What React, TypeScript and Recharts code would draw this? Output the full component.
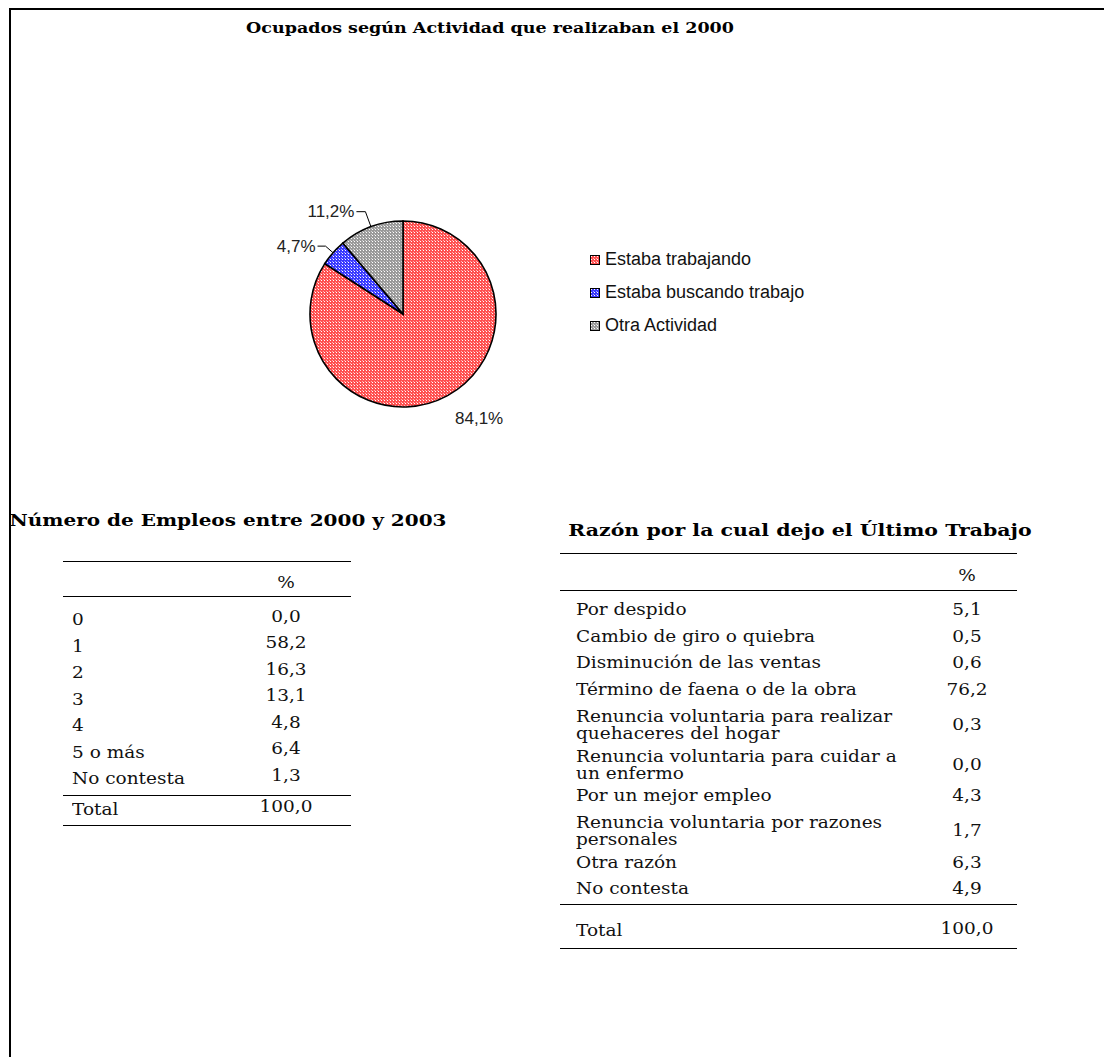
import React from 'react';
import { PieChart, Pie, Cell, Legend } from 'recharts';

// ---------- data ----------
const PIE_CATEGORIES = ['Estaba trabajando', 'Estaba buscando trabajo', 'Otra Actividad'];
const PIE_VALUES = [84.1, 4.7, 11.2];

const EMPLEOS_LABELS = ['0', '1', '2', '3', '4', '5 o más', 'No contesta'];
const EMPLEOS_VALUES = [0.0, 58.2, 16.3, 13.1, 4.8, 6.4, 1.3];
const EMPLEOS_TOTAL = 100.0;

const RAZON_LABELS = [
  'Por despido',
  'Cambio de giro o quiebra',
  'Disminución de las ventas',
  'Término de faena o de la obra',
  'Renuncia voluntaria para realizar\nquehaceres del hogar',
  'Renuncia voluntaria para cuidar a\nun enfermo',
  'Por un mejor empleo',
  'Renuncia voluntaria por razones\npersonales',
  'Otra razón',
  'No contesta',
];
const RAZON_VALUES = [5.1, 0.5, 0.6, 76.2, 0.3, 0.0, 4.3, 1.7, 6.3, 4.9];
const RAZON_TOTAL = 100.0;

const TITLE_PIE = 'Ocupados según Actividad que realizaban el 2000';
const TITLE_EMPLEOS = 'Número de Empleos entre 2000 y 2003';
const TITLE_RAZON = 'Razón por la cual dejo el Último Trabajo';
const HEADER_PCT = '%';
const TOTAL_LABEL = 'Total';

// ---------- style ----------
const RADIAN = Math.PI / 180;
const fmt = (v: number) => v.toFixed(1).replace('.', ',');
const SANS = '"Liberation Sans", Arial, sans-serif';
const SERIF = '"DejaVu Serif", serif';
const SQUISH_Y = 0.86;
const LINE_GAP = 17;
const PIE_FILLS = ['url(#patRed)', 'url(#patBlue)', 'url(#patGray)'];
const LABEL_LAYOUT = [
  { radius: 26, elbow: 0, anchor: 'start', dx: -5 },
  { radius: 10, elbow: 8, anchor: 'end', dx: -2 },
  { radius: 16, elbow: 9, anchor: 'end', dx: -2 },
];

const pieData = PIE_CATEGORIES.map((name, i) => ({ name, value: PIE_VALUES[i] }));

const renderLabel = (props: any) => {
  const { cx, cy, midAngle, outerRadius, index, value } = props;
  const cfg = LABEL_LAYOUT[index];
  const cos = Math.cos(-midAngle * RADIAN);
  const sin = Math.sin(-midAngle * RADIAN);
  const ex = cx + outerRadius * cos;
  const ey = cy + outerRadius * sin;
  const px = cx + (outerRadius + cfg.radius) * cos;
  const py = cy + (outerRadius + cfg.radius) * sin;
  const tx = px - cfg.elbow;
  return (
    <g>
      {cfg.elbow > 0 && (
        <polyline points={`${ex},${ey} ${px},${py} ${tx},${py}`} fill="none" stroke="#000" strokeWidth={1} />
      )}
      <text
        x={tx + cfg.dx}
        y={py}
        textAnchor={cfg.anchor}
        dominantBaseline="central"
        fontFamily={SANS}
        fontSize={17}
        fill="#222"
      >
        {fmt(value) + '%'}
      </text>
    </g>
  );
};

const LegendContent = () => (
  <div style={{ fontFamily: SANS, fontSize: 18, color: '#111' }}>
    {pieData.map((d, i) => (
      <div key={d.name} style={{ height: 33, display: 'flex', alignItems: 'center' }}>
        <svg width={10} height={10} style={{ marginRight: 5, display: 'block', flexShrink: 0 }}>
          <rect x={0.5} y={0.5} width={9} height={9} fill={PIE_FILLS[i]} stroke="#000" strokeWidth={1} />
        </svg>
        <span style={{ whiteSpace: 'nowrap' }}>{d.name}</span>
      </div>
    ))}
  </div>
);

const Txt = ({ children }: { children: React.ReactNode }) => (
  <span
    style={{
      display: 'inline-block',
      transform: `scaleY(${SQUISH_Y})`,
      whiteSpace: 'pre-line',
      lineHeight: `${LINE_GAP / SQUISH_Y}px`,
    }}
  >
    {children}
  </span>
);

type TableProps = {
  left: number;
  width: number;
  top: number;
  headerH: number;
  headerOffset: number;
  labels: string[];
  values: number[];
  total: number;
  labelX: number;
  valueCenter: number;
  topPad: number;
  bottomPad: number;
  singleH: number;
  doubleH: number;
  labelOffset: number;
  valueOffset: number;
  totalH: number;
  totalLabelOffset: number;
  totalValueOffset: number;
};

const DataTable = (p: TableProps) => {
  const items: React.ReactNode[] = [];
  const line = (yy: number, key: string) => (
    <div key={key} style={{ position: 'absolute', left: p.left, top: yy, width: p.width, height: 1, background: '#000' }} />
  );
  const cell = (key: string, center: number, content: React.ReactNode, isValue: boolean) => (
    <div
      key={key}
      style={{
        position: 'absolute',
        left: isValue ? p.valueCenter - 40 : p.labelX,
        width: isValue ? 80 : undefined,
        top: center - 30,
        height: 60,
        display: 'flex',
        alignItems: 'center',
        justifyContent: isValue ? 'center' : 'flex-start',
        whiteSpace: 'nowrap',
      }}
    >
      <Txt>{content}</Txt>
    </div>
  );
  items.push(line(p.top, 'l0'));
  items.push(cell('hdr', p.top + p.headerOffset, HEADER_PCT, true));
  let y = p.top + p.headerH;
  items.push(line(y, 'l1'));
  y += p.topPad;
  const rows = p.labels.map((l, i) => ({ label: l, value: p.values[i] }));
  rows.forEach((r, i) => {
    const double = r.label.includes('\n');
    const h = double ? p.doubleH : p.singleH;
    const extra = double ? LINE_GAP / 2 : 0;
    items.push(cell('lab' + i, y + p.labelOffset + extra, r.label, false));
    items.push(cell('val' + i, y + p.valueOffset + extra, fmt(r.value), true));
    y += h;
  });
  y += p.bottomPad;
  items.push(line(y, 'l2'));
  items.push(cell('tl', y + p.totalLabelOffset, TOTAL_LABEL, false));
  items.push(cell('tv', y + p.totalValueOffset, fmt(p.total), true));
  y += p.totalH;
  items.push(line(y, 'l3'));
  return <div style={{ fontFamily: SERIF, fontSize: 18.5, color: '#111' }}>{items}</div>;
};

const titleStyle = (left: number, width: number, top: number, size: number): React.CSSProperties => ({
  position: 'absolute',
  left,
  width,
  top,
  height: 28,
  lineHeight: '28px',
  textAlign: 'center',
  fontFamily: SERIF,
  fontWeight: 'bold',
  fontSize: size,
  color: '#000',
  whiteSpace: 'nowrap',
  transform: 'scaleY(0.85)',
});

export default function App() {
  return (
    <div style={{ position: 'absolute', left: 0, top: 0, width: 1104, height: 1057, overflow: 'hidden', background: '#fff' }}>
      <div style={{ position: 'absolute', left: 9, top: 8, right: 0, bottom: 0, borderTop: '2px solid #000', borderLeft: '2px solid #000' }} />

      <div style={titleStyle(190, 600, 14, 17.5)}>{TITLE_PIE}</div>

      <div style={{ position: 'absolute', left: 200, top: 150 }}>
        <PieChart width={600} height={300} margin={{ top: 0, right: 0, bottom: 0, left: 0 }}>
          <defs>
            <pattern id="patRed" width={3} height={3} patternUnits="userSpaceOnUse">
              <rect width={3} height={3} fill="#FF5050" />
              <rect x={1} y={1} width={1} height={1} fill="#FFFFFF" />
              <rect x={0} y={0} width={1} height={1} fill="#FFB0B0" />
            </pattern>
            <pattern id="patBlue" width={3} height={3} patternUnits="userSpaceOnUse">
              <rect width={3} height={3} fill="#3A3AFF" />
              <rect x={1} y={1} width={1} height={1} fill="#FFFFFF" />
              <rect x={0} y={0} width={1} height={1} fill="#A0A0FF" />
            </pattern>
            <pattern id="patGray" width={3} height={3} patternUnits="userSpaceOnUse">
              <rect width={3} height={3} fill="#9A9A9A" />
              <rect x={1} y={1} width={1} height={1} fill="#FFFFFF" />
              <rect x={0} y={0} width={1} height={1} fill="#D0D0D0" />
            </pattern>
          </defs>
          <Pie
            data={pieData}
            dataKey="value"
            nameKey="name"
            cx={203}
            cy={164}
            outerRadius={93}
            startAngle={90}
            endAngle={-270}
            stroke="#000"
            strokeWidth={1.6}
            label={renderLabel}
            labelLine={false}
            isAnimationActive={false}
          >
            {pieData.map((d, i) => (
              <Cell key={d.name} fill={PIE_FILLS[i]} />
            ))}
          </Pie>
          <Legend content={<LegendContent />} wrapperStyle={{ left: 390, top: 93, width: 260 }} />
        </PieChart>
      </div>

      <div style={titleStyle(0, 456, 506, 20)}>{TITLE_EMPLEOS}</div>
      <DataTable
        left={63}
        width={288}
        top={561}
        headerH={35}
        headerOffset={22}
        labels={EMPLEOS_LABELS}
        values={EMPLEOS_VALUES}
        total={EMPLEOS_TOTAL}
        labelX={72}
        valueCenter={286}
        topPad={4}
        bottomPad={9}
        singleH={26.5}
        doubleH={43}
        labelOffset={20}
        valueOffset={16.5}
        totalH={30}
        totalLabelOffset={15.5}
        totalValueOffset={12.5}
      />

      <div style={titleStyle(550, 500, 516, 20.5)}>{TITLE_RAZON}</div>
      <DataTable
        left={560}
        width={457}
        top={553}
        headerH={37}
        headerOffset={23}
        labels={RAZON_LABELS}
        values={RAZON_VALUES}
        total={RAZON_TOTAL}
        labelX={576}
        valueCenter={967}
        topPad={0}
        bottomPad={8}
        singleH={26.5}
        doubleH={40}
        labelOffset={20}
        valueOffset={20}
        totalH={44}
        totalLabelOffset={27}
        totalValueOffset={25}
      />
    </div>
  );
}
